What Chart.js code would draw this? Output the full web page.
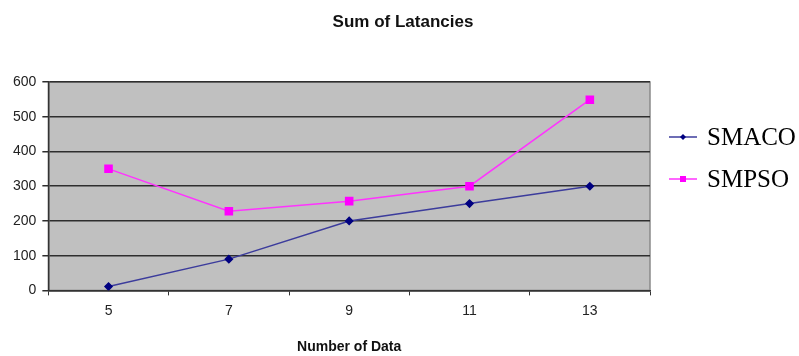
<!DOCTYPE html>
<html>
<head>
<meta charset="utf-8">
<script src="https://cdn.jsdelivr.net/npm/chart.js@4"></script>
<style>
  html, body { margin: 0; padding: 0; background: #fff; }
  #wrap { width: 799px; height: 356px; }
</style>
</head>
<body>
<div id="wrap"><canvas id="line-chart"></canvas></div>
<script>
const chartTitle = 'Sum of Latancies';
const categories = ["5", "7", "9", "11", "13"];
const smaco = [11, 90, 200, 250, 300];
const smpso = [350, 228, 257, 300, 549];
const yTicks = [0, 100, 200, 300, 400, 500, 600];

const FONT = 'Arial, "Liberation Sans", sans-serif';

// grey plot background + border like the old excel chart
const plotBg = {
  id: 'plotBg',
  beforeDraw(chart) {
    const { ctx, chartArea: a } = chart;
    ctx.save();
    ctx.fillStyle = '#c0c0c0';
    ctx.fillRect(a.left, a.top, a.right - a.left, a.bottom - a.top);
    ctx.strokeStyle = '#8a8a8a';
    ctx.lineWidth = 1.5;
    ctx.strokeRect(a.left, a.top, a.right - a.left, a.bottom - a.top);
    ctx.restore();
  }
};

// title centred on the whole picture + legend where excel put it
const extras = {
  id: 'extras',
  afterDraw(chart) {
    const { ctx } = chart;
    ctx.save();
    ctx.fillStyle = '#111';
    ctx.font = 'bold 17px ' + FONT;
    ctx.textAlign = 'center';
    ctx.textBaseline = 'middle';
    ctx.fillText(chartTitle, 403, 22);

    ctx.textAlign = 'left';
    chart.data.datasets.forEach((ds, i) => {
      const y = 137 + i * 42;
      ctx.strokeStyle = ds.borderColor;
      ctx.lineWidth = 1.5;
      ctx.beginPath();
      ctx.moveTo(669, y);
      ctx.lineTo(697, y);
      ctx.stroke();
      ctx.fillStyle = ds.pointBackgroundColor;
      if (ds.pointStyle === 'rect') {
        ctx.fillRect(680, y - 3, 6, 6);
      } else {
        ctx.beginPath();
        ctx.moveTo(683, y - 3); ctx.lineTo(686, y); ctx.lineTo(683, y + 3); ctx.lineTo(680, y);
        ctx.closePath();
        ctx.fill();
      }
      ctx.fillStyle = '#000';
      ctx.font = '25px "Liberation Serif", "Times New Roman", serif';
      ctx.fillText(ds.label, 707, y + 1);
    });
    ctx.restore();
  }
};

const cfg = {
  type: 'line',
  data: {
    labels: categories,
    datasets: [{
      label: 'SMACO',
      data: smaco,
      borderColor: '#3c3c9c',
      borderWidth: 1.5,
      pointStyle: 'rectRot',
      pointRadius: 3.5,
      pointBackgroundColor: '#000080',
      pointBorderColor: '#000080',
      tension: 0
    }, {
      label: 'SMPSO',
      data: smpso,
      borderColor: '#ff33ff',
      borderWidth: 1.5,
      pointStyle: 'rect',
      pointRadius: 5,
      pointBackgroundColor: '#ff00ff',
      pointBorderColor: '#ff00ff',
      tension: 0
    }]
  },
  options: {
    responsive: true,
    maintainAspectRatio: false,
    animation: false,
    layout: { padding: { left: 7, right: 149, top: 82, bottom: 0 } },
    scales: {
      x: {
        offset: true,
        grid: { offset: true, drawOnChartArea: false, color: '#333', tickLength: 5, lineWidth: 1 },
        border: { color: '#333', width: 1.5 },
        ticks: { color: '#222', font: { family: FONT, size: 14 }, padding: 7 },
        title: { display: true, text: 'Number of Data', color: '#111', font: { family: FONT, size: 14, weight: 'bold' }, padding: { top: 13, bottom: 0 } }
      },
      y: {
        min: 0,
        max: 600,
        afterBuildTicks(axis) { axis.ticks = yTicks.map(v => ({ value: v })); },
        grid: { color: '#2e2e2e', lineWidth: 1.5, tickLength: 6 },
        border: { color: '#333', width: 1.5 },
        ticks: { color: '#222', font: { family: FONT, size: 14 }, padding: 6 }
      }
    },
    plugins: {
      legend: { display: false },
      tooltip: { enabled: false },
      title: { display: false }
    }
  },
  plugins: [plotBg, extras]
};

const lineViews = new Chart(document.getElementById('line-chart'), cfg);
</script>
</body>
</html>
